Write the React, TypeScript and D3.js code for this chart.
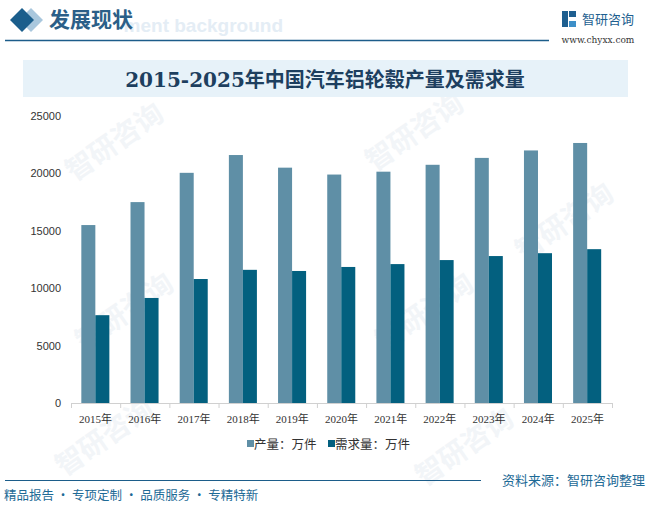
import { useEffect, useRef } from 'react';
import * as d3 from 'd3';

const years = ['2015年', '2016年', '2017年', '2018年', '2019年', '2020年', '2021年', '2022年', '2023年', '2024年', '2025年'];
const production = [15500, 17500, 20050, 21600, 20500, 19900, 20150, 20750, 21350, 22000, 22650];
const demand = [7650, 9150, 10800, 11600, 11500, 11850, 12100, 12450, 12800, 13050, 13400];
const seriesNames = ['产量：万件', '需求量：万件'];
const yTicks = [0, 5000, 10000, 15000, 20000, 25000];

const W = 647;
const H = 505;
const colors = ['#5f8fa6', '#03607f'];

function App() {
  const svgRef = useRef<SVGSVGElement>(null);

  useEffect(() => {
    if (svgRef.current === null) return;
    const svg = d3.select(svgRef.current);
    svg.selectAll('*').remove();

    svg.append('rect').attr('width', W).attr('height', H).attr('fill', '#fff');

    // faint watermarks
    const marks = [[120, 150], [420, 140], [130, 320], [430, 320], [570, 230], [110, 445], [470, 455]];
    marks.forEach(([mx, my]) => {
      svg.append('text')
        .attr('transform', `translate(${mx},${my}) rotate(-35)`)
        .attr('text-anchor', 'middle')
        .attr('font-family', '"Noto Sans CJK SC"')
        .attr('font-size', 28)
        .attr('font-weight', 'bold')
        .attr('fill', '#f2f5f8')
        .text('智研咨询');
    });

    // header
    svg.append('text')
      .attr('x', 283).attr('y', 32)
      .attr('text-anchor', 'end')
      .attr('font-family', '"Liberation Sans", Arial')
      .attr('font-weight', 'bold')
      .attr('font-size', 19)
      .attr('fill', '#e4edf5')
      .text('ment background');
    svg.append('path')
      .attr('d', 'M31,8 L43,20 L31,32 L19,20 Z')
      .attr('fill', '#a9c7dd');
    svg.append('path')
      .attr('d', 'M22,8 L34,20 L22,32 L10,20 Z')
      .attr('fill', '#1b5e8c');
    svg.append('text')
      .attr('x', 49).attr('y', 27)
      .attr('font-family', '"Noto Sans CJK SC"')
      .attr('font-weight', 'bold')
      .attr('font-size', 21)
      .attr('fill', '#2b5f88')
      .text('发展现状');
    svg.append('line')
      .attr('x1', 5).attr('x2', 549).attr('y1', 40.5).attr('y2', 40.5)
      .attr('stroke', '#1c5d8a').attr('stroke-width', 1.5);

    // logo
    const logo = svg.append('g').attr('transform', 'translate(562,11)');
    logo.append('rect').attr('x', 0).attr('y', 0).attr('width', 6).attr('height', 16).attr('fill', '#1e5f90');
    logo.append('rect').attr('x', 7).attr('y', 0).attr('width', 7).attr('height', 6).attr('fill', '#1e5f90');
    logo.append('rect').attr('x', 7).attr('y', 10).attr('width', 7).attr('height', 6).attr('fill', '#3d8fc8');
    svg.append('text')
      .attr('x', 582).attr('y', 24)
      .attr('font-family', '"Noto Sans CJK SC"')
      .attr('font-size', 13)
      .attr('fill', '#1e5f90')
      .text('智研咨询');
    svg.append('text')
      .attr('x', 598).attr('y', 43)
      .attr('text-anchor', 'middle')
      .attr('font-family', '"DejaVu Serif", serif')
      .attr('font-size', 9)
      .attr('fill', '#333')
      .text('www.chyxx.com');

    // title band
    svg.append('rect')
      .attr('x', 23).attr('y', 60).attr('width', 605).attr('height', 37)
      .attr('fill', '#e7f2f9');
    svg.append('text')
      .attr('x', 325).attr('y', 87)
      .attr('text-anchor', 'middle')
      .attr('font-family', '"DejaVu Serif", "Noto Sans CJK SC", serif')
      .attr('font-weight', 'bold')
      .attr('font-size', 20)
      .attr('fill', '#1d3f5f')
      .text('2015-2025年中国汽车铝轮毂产量及需求量');

    // chart
    const left = 71;
    const right = 612;
    const top = 116;
    const bottom = 403;

    const x0 = d3.scaleBand<string>().domain(years).range([left, right]).padding(0);
    const bw = x0.bandwidth();
    const x1 = d3.scaleBand<number>().domain([0, 1]).range([bw * 0.21, bw * 0.78]).padding(0);
    const y = d3.scaleLinear().domain([0, 25000]).range([bottom, top]);

    const groups = svg.append('g').selectAll('g').data(years).enter().append('g')
      .attr('transform', (d) => `translate(${x0(d)},0)`);
    groups.selectAll('rect')
      .data((_, i) => [production[i], demand[i]])
      .enter()
      .append('rect')
      .attr('x', (_, j) => x1(j) || 0)
      .attr('width', x1.bandwidth())
      .attr('y', (v) => y(v))
      .attr('height', (v) => bottom - y(v))
      .attr('fill', (_, j) => colors[j]);

    // x axis
    const xAxis = svg.append('g');
    xAxis.append('line')
      .attr('x1', left).attr('x2', right).attr('y1', bottom + 0.5).attr('y2', bottom + 0.5)
      .attr('stroke', '#d0d0d0');
    xAxis.selectAll('line.tick')
      .data([...years.map((d) => x0(d) || 0), right])
      .enter()
      .append('line')
      .attr('class', 'tick')
      .attr('x1', (d) => d + 0.5).attr('x2', (d) => d + 0.5)
      .attr('y1', bottom).attr('y2', bottom + 5)
      .attr('stroke', '#d0d0d0');
    xAxis.selectAll('text')
      .data(years)
      .enter()
      .append('text')
      .attr('x', (d) => (x0(d) || 0) + bw / 2)
      .attr('y', bottom + 20)
      .attr('text-anchor', 'middle')
      .attr('font-family', '"Liberation Serif", "Noto Sans CJK SC", serif')
      .attr('font-size', 11)
      .attr('fill', '#333')
      .text((d) => d);

    // y axis labels
    svg.append('g').selectAll('text')
      .data(yTicks)
      .enter()
      .append('text')
      .attr('x', 61)
      .attr('y', (d) => y(d) + 4)
      .attr('text-anchor', 'end')
      .attr('font-family', '"Liberation Sans", Arial')
      .attr('font-size', 11)
      .attr('fill', '#333')
      .text((d) => d);

    // legend
    const legendX = [247, 328];
    seriesNames.forEach((name, i) => {
      svg.append('rect')
        .attr('x', legendX[i]).attr('y', 440).attr('width', 7).attr('height', 7)
        .attr('fill', colors[i]);
      svg.append('text')
        .attr('x', legendX[i] + 7).attr('y', 449)
        .attr('font-family', '"Noto Sans CJK SC"')
        .attr('font-size', 12.5)
        .attr('fill', '#333')
        .text(name);
    });

    // footer
    svg.append('line')
      .attr('x1', 5).attr('x2', 481).attr('y1', 480.5).attr('y2', 480.5)
      .attr('stroke', '#1c5d8a').attr('stroke-width', 1.2);
    svg.append('text')
      .attr('x', 645).attr('y', 485)
      .attr('text-anchor', 'end')
      .attr('font-family', '"Noto Sans CJK SC"')
      .attr('font-size', 13)
      .attr('fill', '#1d6a96')
      .text('资料来源：智研咨询整理');
    svg.append('text')
      .attr('x', 4).attr('y', 500)
      .attr('font-family', '"Noto Sans CJK SC"')
      .attr('font-size', 12.5)
      .attr('fill', '#1d6a96')
      .text('精品报告 · 专项定制 · 品质服务 · 专精特新');
  }, []);

  return <svg ref={svgRef} width={W} height={H} style={{ position: 'absolute', left: 0, top: 0 }} />;
}

export default App;
